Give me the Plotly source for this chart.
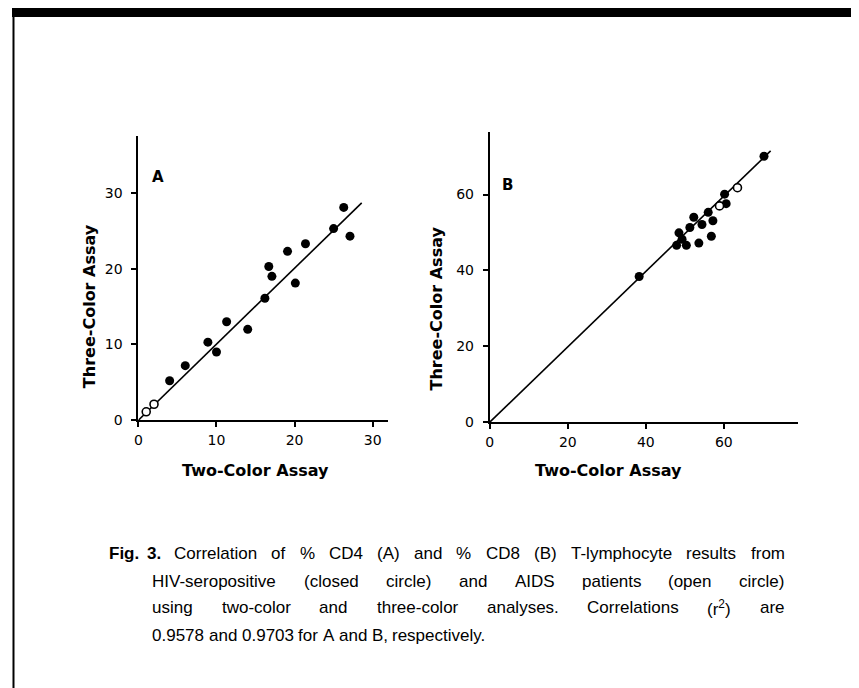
import plotly.graph_objects as go

W, H = 859, 688
OFF = 8  # default browser body margin around the plot div

# ---------------- data ----------------
# Panel A (% CD4)
a_closed_x = [4.0, 6.0, 8.9, 10.0, 11.3, 14.0, 16.2, 16.7, 17.1, 19.1, 20.1, 21.4, 25.0, 26.3, 27.1]
a_closed_y = [5.2, 7.2, 10.3, 9.0, 13.0, 12.0, 16.1, 20.3, 19.0, 22.3, 18.1, 23.3, 25.3, 28.1, 24.3]
a_open_x = [1.0, 2.0]
a_open_y = [1.1, 2.1]
a_fit_x = [0.0, 28.6]
a_fit_y = [0.0, 28.7]
a_ticks = [0, 10, 20, 30]

# Panel B (% CD8)
b_closed_x = [38.3, 47.9, 48.5, 49.3, 50.4, 51.3, 52.3, 53.6, 54.4, 56.0, 56.8, 57.2, 60.2, 60.6, 70.3]
b_closed_y = [38.4, 46.6, 49.9, 48.2, 46.6, 51.3, 54.0, 47.2, 52.1, 55.3, 49.0, 53.1, 60.1, 57.6, 70.1]
b_open_x = [58.9, 63.5]
b_open_y = [57.0, 61.8]
b_fit_x = [0.0, 72.0]
b_fit_y = [0.0, 71.5]
b_ticks = [0, 20, 40, 60]

x_title = "Two-Color Assay"
y_title = "Three-Color Assay"
fig_word = "Fig."
fig_num = "3."
caption_lines = [
    ["Correlation", "of", "%", "CD4", "(A)", "and", "%", "CD8", "(B)", "T-lymphocyte", "results", "from"],
    ["HIV-seropositive", "(closed", "circle)", "and", "AIDS", "patients", "(open", "circle)"],
    ["using", "two-color", "and", "three-color", "analyses.", "Correlations", "(r<sup>2</sup>)", "are"],
    ["0.9578", "and", "0.9703", "for", "A", "and", "B,", "respectively."],
]


def px(X):
    return (X - OFF) / W


def py(Y):
    return 1 - (Y - OFF) / H


# Arial / Liberation Sans advance widths (1/1000 em)
AW = {" ": 278, "%": 889, "(": 333, ")": 333, ",": 278, "-": 333, ".": 278,
      "A": 667, "B": 667, "C": 722, "D": 722, "E": 667, "F": 611, "G": 778, "H": 722, "I": 278,
      "L": 556, "M": 833, "N": 722, "O": 778, "P": 667, "R": 722, "S": 667, "T": 611, "V": 667,
      "a": 556, "b": 556, "c": 500, "d": 556, "e": 556, "f": 278, "g": 556, "h": 556, "i": 222,
      "j": 222, "k": 500, "l": 222, "m": 833, "n": 556, "o": 556, "p": 556, "q": 556, "r": 333,
      "s": 500, "t": 278, "u": 556, "v": 500, "w": 722, "x": 500, "y": 500, "z": 500}


def word_w(word, fs):
    if "<sup>" in word:
        plain = word.replace("<sup>2</sup>", "")
        return (sum(AW.get(c, 556) for c in plain) + 0.7 * 556) * fs / 1000
    return sum(AW.get(c, 556) for c in word) * fs / 1000


fig = go.Figure()

dot = dict(color="black", size=9, line=dict(color="black", width=0))
ring = dict(color="white", size=8, line=dict(color="black", width=1.6))

# Panel A
fig.add_trace(go.Scatter(x=a_fit_x, y=a_fit_y, mode="lines", line=dict(color="black", width=1.6),
                         xaxis="x", yaxis="y", showlegend=False, hoverinfo="skip"))
fig.add_trace(go.Scatter(x=a_closed_x, y=a_closed_y, mode="markers", marker=dot,
                         xaxis="x", yaxis="y", showlegend=False))
fig.add_trace(go.Scatter(x=a_open_x, y=a_open_y, mode="markers", marker=ring,
                         xaxis="x", yaxis="y", showlegend=False))
# Panel B
fig.add_trace(go.Scatter(x=b_fit_x, y=b_fit_y, mode="lines", line=dict(color="black", width=1.6),
                         xaxis="x2", yaxis="y2", showlegend=False, hoverinfo="skip"))
fig.add_trace(go.Scatter(x=b_closed_x, y=b_closed_y, mode="markers", marker=dot,
                         xaxis="x2", yaxis="y2", showlegend=False))
fig.add_trace(go.Scatter(x=b_open_x, y=b_open_y, mode="markers", marker=ring,
                         xaxis="x2", yaxis="y2", showlegend=False))

tickfont = dict(family="DejaVu Sans", size=14, color="black")
common = dict(showline=True, linecolor="black", linewidth=2, ticks="outside", ticklen=5,
              tickwidth=1.5, tickcolor="black", showgrid=False, zeroline=False,
              tickfont=tickfont, fixedrange=True)

fig.update_layout(
    width=W, height=H, autosize=False,
    margin=dict(l=0, r=0, t=0, b=0),
    paper_bgcolor="white", plot_bgcolor="rgba(0,0,0,0)",
    xaxis=dict(domain=[px(135), px(386)], range=[0, 32.0], tickvals=a_ticks, anchor="y",
               ticklabelstandoff=1, **common),
    yaxis=dict(domain=[py(425), py(137)], range=[0, 37.6], tickvals=a_ticks, anchor="x",
               ticklabelstandoff=6, **common),
    xaxis2=dict(domain=[px(488), px(798)], range=[0, 79.1], tickvals=b_ticks, anchor="y2",
                ticklabelstandoff=1, **common),
    yaxis2=dict(domain=[py(427), py(133)], range=[0, 76.6], tickvals=b_ticks, anchor="x2",
                ticklabelstandoff=6, **common),
)

ann = []
tf = dict(family="DejaVu Sans", size=16, color="black")
# axis titles
ann.append(dict(text="<b>" + x_title + "</b>", x=px(253), y=py(476), xref="paper", yref="paper",
                showarrow=False, font=tf, xanchor="center", yanchor="middle"))
ann.append(dict(text="<b>" + x_title + "</b>", x=px(607), y=py(476), xref="paper", yref="paper",
                showarrow=False, font=tf, xanchor="center", yanchor="middle"))
ann.append(dict(text="<b>" + y_title + "</b>", x=px(86), y=py(310), xref="paper", yref="paper",
                showarrow=False, font=tf, textangle=-90, xanchor="center", yanchor="middle"))
ann.append(dict(text="<b>" + y_title + "</b>", x=px(434), y=py(312), xref="paper", yref="paper",
                showarrow=False, font=tf, textangle=-90, xanchor="center", yanchor="middle"))
# panel letters
ann.append(dict(text="<b>A</b>", x=px(147), y=py(168), xref="paper", yref="paper",
                showarrow=False, font=dict(family="DejaVu Sans", size=15, color="black")))
ann.append(dict(text="<b>B</b>", x=px(506), y=py(176), xref="paper", yref="paper",
                showarrow=False, font=dict(family="DejaVu Sans", size=15, color="black")))

# caption (justified, word by word)
FS = 17
cf = dict(family="Liberation Sans", size=FS, color="black")
line_y = [560, 588, 615, 643]
ann.append(dict(text="<b>" + fig_word + "</b>", x=px(104), y=py(line_y[0]), xref="paper", yref="paper",
                showarrow=False, font=cf, xanchor="left", yanchor="middle", borderpad=0))
ann.append(dict(text="<b>" + fig_num + "</b>", x=px(143), y=py(line_y[0]), xref="paper", yref="paper",
                showarrow=False, font=cf, xanchor="left", yanchor="middle", borderpad=0))
starts = [170, 148, 148, 148]
right_edge = 783
for li, (words, Y, x0) in enumerate(zip(caption_lines, line_y, starts)):
    widths = [word_w(w, FS) for w in words]
    if li < 3:
        gap = (right_edge - x0 - sum(widths)) / (len(words) - 1)
    else:
        gap = AW[" "] * FS / 1000
    X = x0
    for w, wd in zip(words, widths):
        ann.append(dict(text=w, x=px(X), y=py(Y), xref="paper", yref="paper",
                        showarrow=False, font=cf, xanchor="left", yanchor="middle", borderpad=0))
        X += wd + gap

fig.update_layout(annotations=ann)

# frame: heavy top rule and thin left rule
fig.add_shape(type="rect", xref="paper", yref="paper", x0=0, x1=1, y0=py(17), y1=1,
              fillcolor="black", line=dict(width=0))
fig.add_shape(type="line", xref="paper", yref="paper", x0=1.5 / W, x1=1.5 / W, y0=0, y1=1,
              line=dict(color="black", width=2))

fig.write_html("out.html")
